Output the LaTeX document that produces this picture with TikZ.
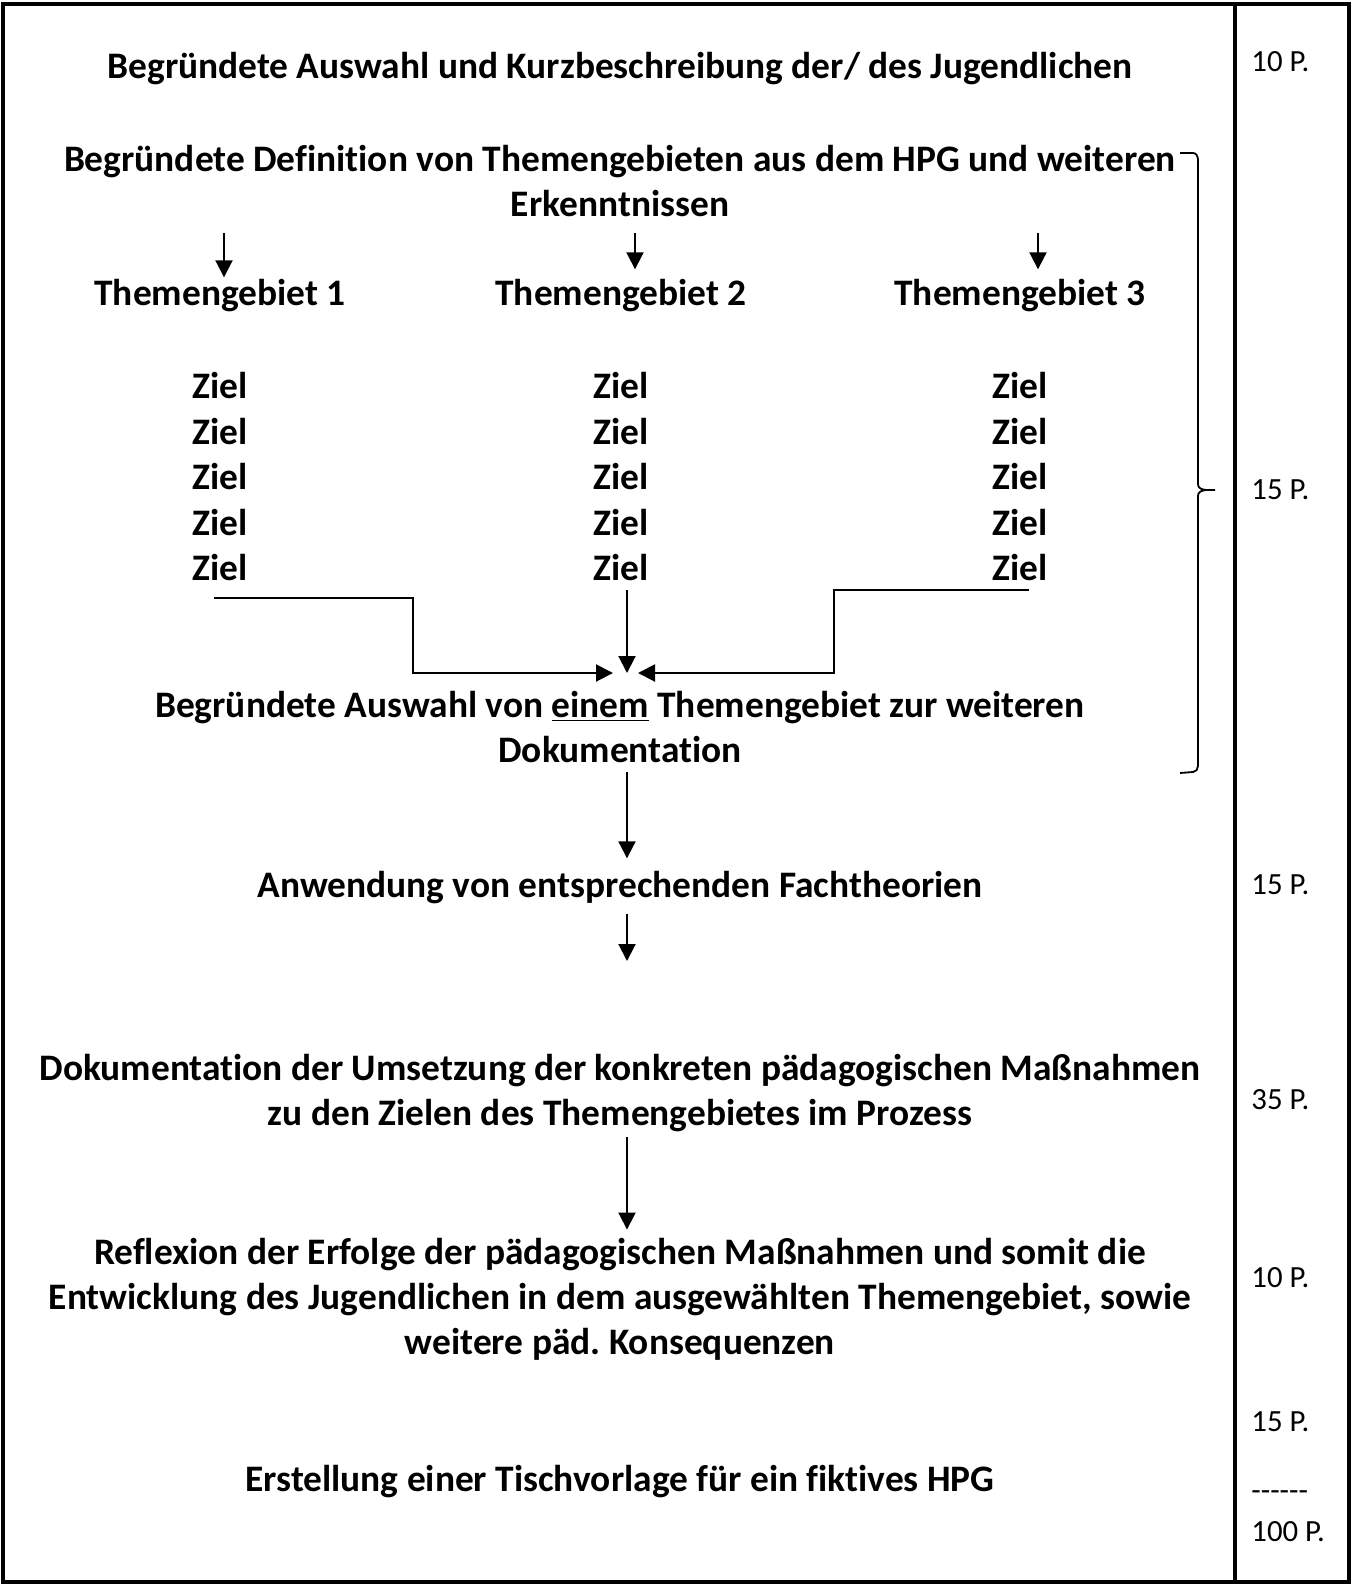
\documentclass[tikz,border=0pt]{standalone}
\usepackage{fontspec}
\setmainfont{Carlito}[Ligatures={NoCommon}]
\usetikzlibrary{arrows.meta}
\frenchspacing

\begin{document}
\begin{tikzpicture}[x=0.5pt,y=-0.5pt,
    txt/.style={font=\fontsize{18.7}{22.5}\selectfont\bfseries, align=center, inner sep=0pt},
    pts/.style={font=\fontsize{15.4}{18}\selectfont, anchor=west, inner sep=0pt, text height=0.64em, text depth=0pt},
    linie/.style={line width=0.9pt},
    pfeil/.style={line width=1pt, -{Triangle[length=8.5pt,width=8.5pt]}},
    rahmen/.style={line width=1.6pt}]
\useasboundingbox (0,0) rectangle (1354,1585);
\draw[rahmen] (3,4) rectangle (1349,1582);
\draw[rahmen] (1235,4) -- (1235,1582);

\node[txt] (auswahl) at (620,69) {Begründete Auswahl und Kurzbeschreibung der/ des Jugendlichen};
\node[txt] (definition) at (620,181) {Begründete Definition von Themengebieten aus dem HPG und weiteren\\Erkenntnissen};
\node[txt] (tg1) at (220,296) {Themengebiet 1};
\node[txt] (tg2) at (621,296) {Themengebiet 2};
\node[txt] (tg3) at (1020,296) {Themengebiet 3};
\foreach \col/\x in {1/220,2/621,3/1020}
  \foreach \r in {1,...,5}
    \node[txt] (ziel\col\r) at (\x,{386+45.5*(\r-1)}) {Ziel};
\node[txt] (wahl) at (620,727) {Begründete Auswahl von \underline{einem} Themengebiet zur weiteren\\Dokumentation};
\node[txt] (anwendung) at (620,888) {Anwendung von entsprechenden Fachtheorien};
\node[txt] (umsetzung) at (620,1093) {Dokumentation der Umsetzung der konkreten pädagogischen Maßnahmen\\zu den Zielen des Themengebietes im Prozess};
\node[txt] (reflexion) at (620,1299) {Reflexion der Erfolge der pädagogischen Maßnahmen und somit die\\Entwicklung des Jugendlichen in dem ausgewählten Themengebiet, sowie\\weitere päd. Konsequenzen};
\node[txt] (tisch) at (620,1482) {Erstellung einer Tischvorlage für ein fiktives HPG};

\node[pts] (p1) at (1251,65) {10 P.};
\node[pts] (p2) at (1251,493) {15 P.};
\node[pts] (p3) at (1251,888) {15 P.};
\node[pts] (p4) at (1251,1103) {35 P.};
\node[pts] (p5) at (1251,1281) {10 P.};
\node[pts] (p6) at (1251,1425) {15 P.};
\node[pts] (strich) at (1251,1494) {-\kern0pt-\kern0pt-\kern0pt-\kern0pt-\kern0pt-};
\node[pts] (summe) at (1251,1535) {100 P.};

\draw[pfeil] ([xshift=2pt,yshift=-8pt]definition.south -| tg1) -- ([xshift=2pt,yshift=1pt]tg1.north);
\draw[pfeil] ([xshift=7pt,yshift=-8pt]definition.south -| tg2) -- ([xshift=7pt,yshift=5pt]tg2.north);
\draw[pfeil] ([xshift=9pt,yshift=-8pt]definition.south -| tg3) -- ([xshift=9pt,yshift=5pt]tg3.north);

\coordinate (knick1) at (413,598);
\coordinate (knick2) at (834,590);
\coordinate (mitte) at (627,673);
\draw[pfeil] ([xshift=-3pt]ziel15.south |- knick1) -- (knick1) |- ([xshift=-7pt]mitte);
\draw[pfeil] (mitte |- knick2) -- (mitte);
\draw[pfeil] ([xshift=4.5pt]ziel35.south |- knick2) -- (knick2) |- ([xshift=5.5pt]mitte);

\coordinate (ende) at (627,961);
\draw[pfeil] ([yshift=-4.5pt]wahl.south -| mitte) -- ([yshift=6.5pt]anwendung.north -| mitte);
\draw[pfeil] ([yshift=-4.5pt]anwendung.south -| mitte) -- (ende);
\draw[pfeil] ([yshift=-2.5pt]umsetzung.south -| mitte) -- ([yshift=4pt]reflexion.north -| mitte);

\draw[linie] (1180,153) -- (1193,153) to[out=0,in=90] (1198,160) -- (1198,484)
  to[out=-90,in=180] (1215,490) to[out=180,in=90] (1198,496) -- (1198,766)
  to[out=-90,in=0] (1193,772) -- (1180,773);
\end{tikzpicture}
\end{document}
